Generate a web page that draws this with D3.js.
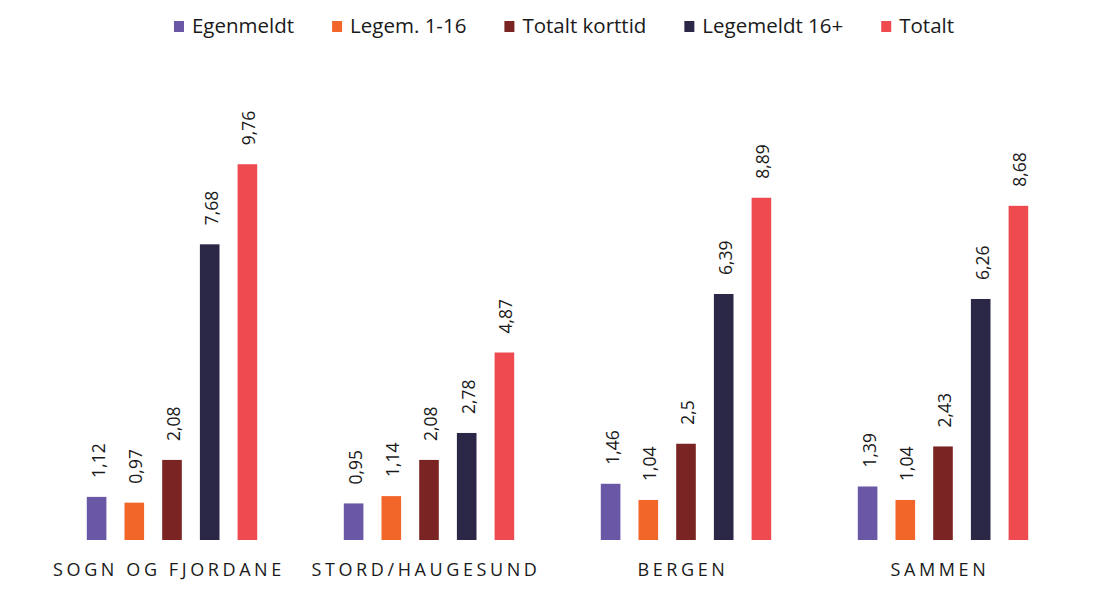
<!DOCTYPE html>
<html>
<head>
<meta charset="utf-8">
<script src="https://cdn.jsdelivr.net/npm/d3@7"></script>
<style>
  body { margin: 0; background: #fff; }
  text { font-family: "Open Sans", sans-serif; fill: #1a1a1a; }
</style>
</head>
<body>
<div id="chart"></div>
<script>
// Chart data
var categories = ["SOGN OG FJORDANE", "STORD/HAUGESUND", "BERGEN", "SAMMEN"];
var seriesNames = ["Egenmeldt", "Legem. 1-16", "Totalt korttid", "Legemeldt 16+", "Totalt"];
var seriesColors = ["#6a57a6", "#f2662a", "#7a2424", "#2a2747", "#ef4a50"];
var egenmeldt = [1.12, 0.95, 1.46, 1.39];
var legem116 = [0.97, 1.14, 1.04, 1.04];
var totaltKorttid = [2.08, 2.08, 2.5, 2.43];
var legemeldt16 = [7.68, 2.78, 6.39, 6.26];
var totalt = [9.76, 4.87, 8.89, 8.68];
var seriesValues = [egenmeldt, legem116, totaltKorttid, legemeldt16, totalt];

var width = 1093,
	height = 589;

var svg = d3.select("#chart")
	.append("svg")
	.attr("width", width)
	.attr("height", height);

// Scales
var x0 = d3.scaleBand()
	.domain(categories)
	.range([43.5, 1071.5]);

var x1 = d3.scaleBand()
	.domain(seriesNames)
	.range([0, 188.5])
	.paddingInner(0.48)
	.paddingOuter(0.24);

var y = d3.scaleLinear()
	.domain([0, 10])
	.range([540, 155]);

// Flatten data for bars
var rows = [];
categories.forEach(function (c, i) {
	seriesNames.forEach(function (s, j) {
		rows.push({ cat: c, series: s, value: seriesValues[j][i], color: seriesColors[j] });
	});
});

function barX(d) {
	return x0(d.cat) + (x0.bandwidth() - 188.5) / 2 + x1(d.series);
}

// Bars
svg.selectAll("rect.bar")
	.data(rows)
	.enter()
	.append("rect")
	.attr("class", "bar")
	.attr("x", barX)
	.attr("width", x1.bandwidth())
	.attr("y", function (d) { return y(d.value); })
	.attr("height", function (d) { return y(0) - y(d.value); })
	.attr("fill", function (d) { return d.color; });

// Value labels, rotated
svg.selectAll("text.val")
	.data(rows)
	.enter()
	.append("text")
	.attr("class", "val")
	.attr("transform", function (d) {
		var cx = barX(d) + x1.bandwidth() / 2 + 1;
		return "translate(" + cx + "," + (y(d.value) - 19) + ") rotate(-90)";
	})
	.attr("dominant-baseline", "central")
	.style("font-size", "17.5px")
	.text(function (d) { return String(d.value).replace(".", ","); });

// Category labels
svg.selectAll("text.cat")
	.data(categories)
	.enter()
	.append("text")
	.attr("class", "cat")
	.attr("x", function (d) { return x0(d) + x0.bandwidth() / 2 - 3; })
	.attr("y", 576)
	.attr("text-anchor", "middle")
	.style("font-size", "18px")
	.style("letter-spacing", "3.6px")
	.text(function (d) { return d; });

// Legend
var legend = svg.append("g");
var lx = 0;
seriesNames.forEach(function (s, i) {
	var g = legend.append("g").attr("transform", "translate(" + lx + ",0)");
	g.append("rect")
		.attr("x", 0)
		.attr("y", 21)
		.attr("width", 10)
		.attr("height", 11)
		.attr("fill", seriesColors[i]);
	var t = g.append("text")
		.attr("x", 18)
		.attr("y", 33)
		.style("font-size", "20.5px")
		.text(s);
	lx += 18 + t.node().getComputedTextLength() + 38;
});
var legendW = lx - 38;
legend.attr("transform", "translate(" + (564 - legendW / 2) + ",0)");
</script>
</body>
</html>
